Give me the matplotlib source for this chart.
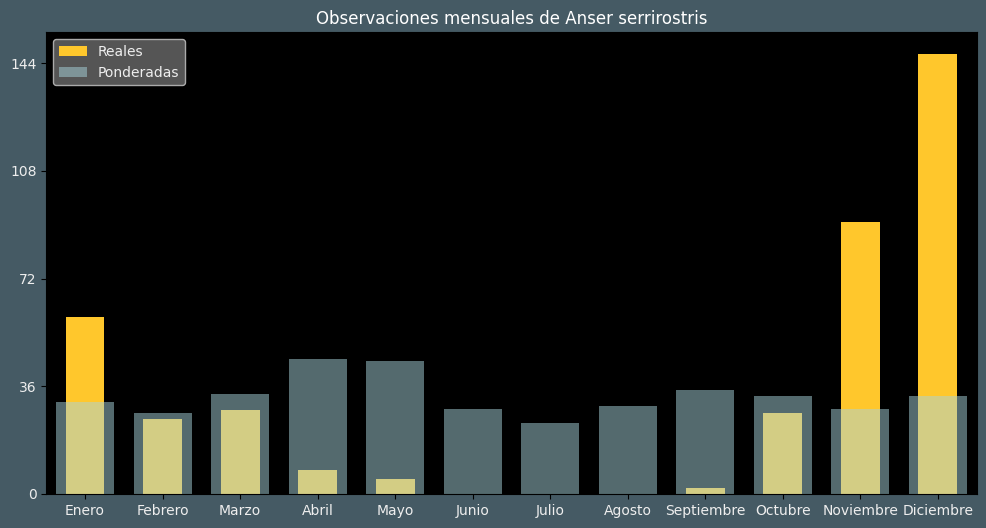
import matplotlib
matplotlib.use('Agg')
import matplotlib.pyplot as plt
import numpy as np

meses = ['Enero', 'Febrero', 'Marzo', 'Abril', 'Mayo', 'Junio', 'Julio',
         'Agosto', 'Septiembre', 'Octubre', 'Noviembre', 'Diciembre']
reales = [59, 25, 28, 8, 5, 0, 0, 0, 2, 27, 91, 147]
ponderadas = [30.7, 27.1, 33.4, 45.1, 44.4, 28.4, 23.7, 29.4, 34.7, 32.7, 28.4, 32.7]

fig = plt.figure(figsize=(9.86, 5.28), dpi=100, facecolor='#455a64')
ax = fig.add_axes([0.047, 0.0644, 0.9435, 0.8746])
ax.set_facecolor('black')

x = np.arange(len(meses))
ax.bar(x, reales, width=0.5, color='#ffc72c', label='Reales')
ax.bar(x, ponderadas, width=0.75, color='#a8d4dc', alpha=0.5, label='Ponderadas')

ax.set_xlim(-0.5, len(meses) - 0.5)
ax.set_ylim(0, max(reales) * 1.05)
ax.set_yticks([0, 36, 72, 108, 144])
ax.set_xticks(x)
ax.set_xticklabels(meses)
ax.tick_params(colors='black', labelcolor='#eeeeee', labelsize=10)
for s in ax.spines.values():
    s.set_color('black')

ax.set_title('Observaciones mensuales de Anser serrirostris', color='white', fontsize=12)
leg = ax.legend(loc='upper left', fontsize=10, facecolor='#555555', edgecolor='#aaaaaa',
                framealpha=1)
for t in leg.get_texts():
    t.set_color('#eeeeee')

fig.savefig('out.png', facecolor=fig.get_facecolor())
